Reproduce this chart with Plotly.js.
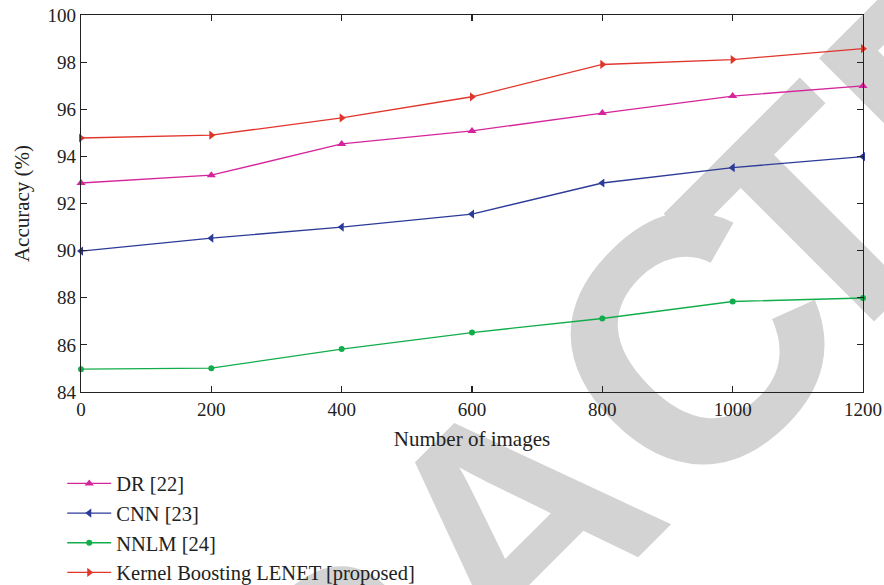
<!DOCTYPE html>
<html>
<head>
<meta charset="utf-8">
<script src="https://cdn.plot.ly/plotly-3.0.1.min.js"></script>
<style>html,body{margin:0;padding:0;background:#fff;}#chart{width:884px;height:585px;}</style>
</head>
<body>
<div id="chart"></div>
<script>
// ---- data ----
const numImages = [0, 200, 400, 600, 800, 1000, 1200];
const drAcc     = [92.87, 93.2, 94.53, 95.08, 95.84, 96.56, 96.99];
const cnnAcc    = [89.98, 90.53, 91.0, 91.55, 92.87, 93.52, 93.99];
const nnlmAcc   = [84.97, 85.01, 85.82, 86.52, 87.12, 87.84, 87.99];
const kblAcc    = [94.78, 94.9, 95.63, 96.53, 97.9, 98.11, 98.57];
const seriesNames = ['DR [22]', 'CNN [23]', 'NNLM [24]', 'Kernel Boosting LENET [proposed]'];
const xTicks = [0, 200, 400, 600, 800, 1000, 1200];
const yTicks = [84, 86, 88, 90, 92, 94, 96, 98, 100];
const watermarkLetters = ['R', 'A', 'C', 'T', 'E'];

// ---- styling ----
const serif = 'Liberation Serif, Times New Roman, serif';
const colors = ['#d5259c', '#2c3b98', '#12ad4b', '#e0352b'];
const symbols = ['triangle-up', 'triangle-left', 'circle', 'triangle-right'];
const msizes = [8, 8, 6, 8];
const allY = [drAcc, cnnAcc, nnlmAcc, kblAcc];

const traces = allY.map((ys, i) => ({
  type: 'scatter', mode: 'lines+markers',
  x: numImages, y: ys, name: seriesNames[i],
  line: {color: colors[i], width: 1.3},
  marker: {symbol: symbols[i], size: msizes[i], color: colors[i]},
  cliponaxis: false
}));

// ---- watermark (decoration, drawn below the plot) ----
const W = 884, H = 585, L = 81, R = 21, T = 15, B = 193;
const pw = W - L - R, ph = H - T - B;
const letterPos = [[344, 686], [511, 519], [690, 340], [808, 222], [957, 73]];
const letterScale = [1, 1, 1.07, 1, 1];
const wmSize = 327, wmHalfCap = 117;
let svg = '<svg xmlns="http://www.w3.org/2000/svg" width="' + W + '" height="' + H + '" viewBox="0 0 ' + W + ' ' + H + '">';
watermarkLetters.forEach((ch, i) => {
  svg += '<g transform="translate(' + letterPos[i][0] + ',' + letterPos[i][1] + ') rotate(-45) scale(' + letterScale[i] + ')">' +
    '<text x="0" y="' + wmHalfCap + '" text-anchor="middle" font-family="Liberation Sans" font-weight="bold" font-size="' + wmSize + '" fill="#d3d3d3">' + ch + '</text></g>';
});
svg += '</svg>';
const wmImage = {
  source: 'data:image/svg+xml;charset=utf-8,' + encodeURIComponent(svg),
  xref: 'paper', yref: 'paper', x: -L / pw, y: 1 + T / ph,
  sizex: W / pw, sizey: H / ph, xanchor: 'left', yanchor: 'top',
  sizing: 'stretch', layer: 'below'
};

const axisCommon = {
  showline: true, linecolor: '#222', linewidth: 1.3, mirror: 'ticks',
  ticks: 'inside', ticklen: 6, tickwidth: 1.2, tickcolor: '#222',
  showgrid: false, zeroline: false,
  tickfont: {family: serif, size: 19, color: '#222'}
};

const layout = {
  width: W, height: H,
  margin: {l: L, r: R, t: T, b: B, pad: 0, autoexpand: false},
  paper_bgcolor: '#fff', plot_bgcolor: 'rgba(0,0,0,0)',
  showlegend: true,
  xaxis: Object.assign({}, axisCommon, {
    range: [0, 1200], tickvals: xTicks, ticktext: xTicks.map(String),
    title: {text: 'Number of images', font: {family: serif, size: 21, color: '#222'}, standoff: 12}
  }),
  yaxis: Object.assign({}, axisCommon, {
    range: [84, 100], tickvals: yTicks, ticktext: yTicks.map(String),
    title: {text: 'Accuracy (%)', font: {family: serif, size: 21, color: '#222'}, standoff: 12}
  }),
  legend: {
    x: -0.024, xanchor: 'left', y: -0.19, yanchor: 'top',
    font: {family: serif, size: 20.5, color: '#222'},
    bgcolor: 'rgba(0,0,0,0)', tracegroupgap: 0, itemwidth: 44
  },
  images: [wmImage]
};

Plotly.newPlot('chart', traces, layout, {displayModeBar: false, staticPlot: true});
</script>
</body>
</html>
